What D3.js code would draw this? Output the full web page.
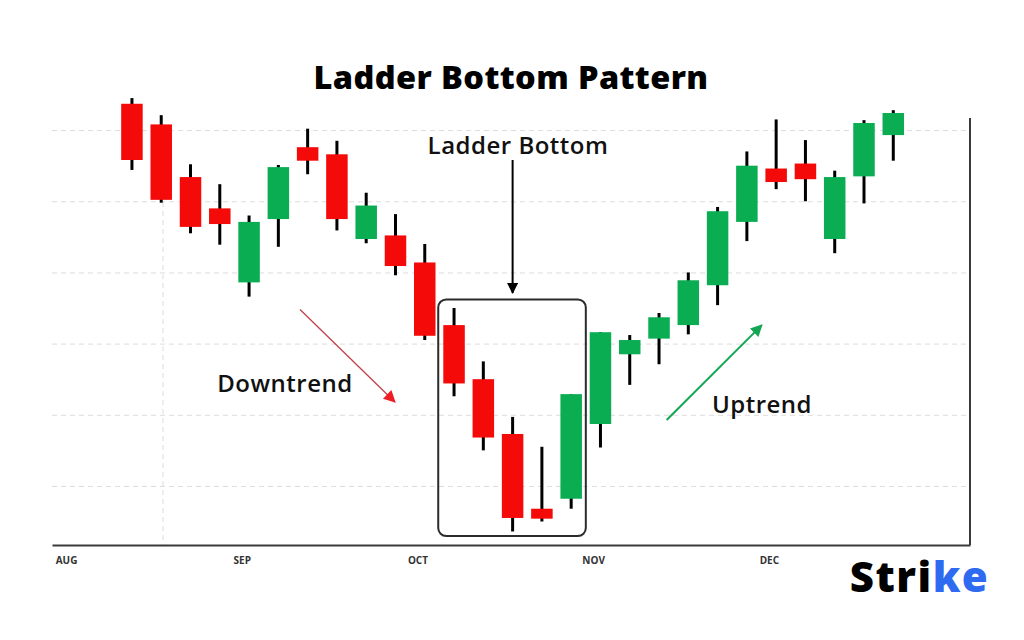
<!DOCTYPE html>
<html>
<head>
<meta charset="utf-8">
<script src="https://cdn.jsdelivr.net/npm/d3@7"></script>
<style>
  html, body { margin: 0; padding: 0; background: #ffffff; }
  svg { display: block; }
  text { font-family: "Open Sans", "DejaVu Sans", sans-serif; }
</style>
</head>
<body>
<svg id="chart" width="1024" height="640"></svg>
<script>
// ---- data (weekly candles, index 0..26) ----
const candleIndex = d3.range(27);
const openVals  = [63.7, 60.8, 53.4, 49.0, 38.6, 47.5, 57.6, 56.6, 44.7, 45.2, 41.4, 32.6, 25.0, 17.3, 6.8, 8.2, 18.7, 28.5, 30.7, 32.6, 38.2, 47.1, 54.6, 55.3, 44.7, 53.5, 59.3];
const highVals  = [64.5, 62.1, 55.2, 52.4, 48.0, 55.1, 60.2, 58.5, 51.2, 48.2, 44.0, 35.0, 27.5, 19.7, 15.5, 22.9, 31.6, 31.2, 34.3, 40.0, 49.2, 57.0, 61.5, 58.6, 54.3, 61.4, 62.8];
const lowVals   = [54.4, 49.8, 45.5, 43.9, 36.6, 43.6, 53.8, 45.9, 44.1, 39.6, 30.5, 22.6, 15.0, 3.6, 5.0, 6.8, 15.4, 24.2, 27.1, 31.3, 35.4, 44.4, 51.7, 50.0, 42.7, 49.7, 55.7];
const closeVals = [55.8, 50.2, 46.4, 46.8, 47.1, 54.8, 55.7, 47.5, 49.4, 40.9, 31.1, 24.4, 16.8, 5.5, 5.4, 22.9, 31.6, 30.5, 33.7, 38.9, 48.6, 55.0, 52.7, 53.1, 53.4, 61.0, 62.4];
const monthLabels = ["AUG", "SEP", "OCT", "NOV", "DEC"];
const monthTickIndex = [-2.25, 3.75, 9.75, 15.75, 21.75];
const priceGrid = [10, 20, 30, 40, 50, 60];

const candles = candleIndex.map((i) => ({
  i, open: openVals[i], high: highVals[i], low: lowVals[i], close: closeVals[i]
}));

// ---- layout ----
const svg = d3.select("#chart");
const x = d3.scaleLinear().domain([-2.73, 28.62]).range([52, 970]);
const y = d3.scaleLinear().domain([1.7, 61.7]).range([545, 118]);
const RED = "#f50a0a", GREEN = "#0bad52";
const bodyW = 21.5;

svg.append("rect").attr("width", 1024).attr("height", 640).attr("fill", "#ffffff");

// horizontal dashed grid
const gGrid = svg.append("g")
  .attr("transform", `translate(${x.range()[0]},0)`)
  .call(d3.axisLeft(y).tickValues(priceGrid).tickSize(-(x.range()[1] - x.range()[0])).tickFormat(""));
gGrid.select(".domain").remove();
gGrid.selectAll(".tick line").attr("stroke", "#dcdcdc").attr("stroke-dasharray", "5,4").attr("stroke-width", 1);

// vertical dashed grid
svg.append("line")
  .attr("x1", x(1.06)).attr("x2", x(1.06))
  .attr("y1", y(60)).attr("y2", y.range()[0])
  .attr("stroke", "#dcdcdc").attr("stroke-dasharray", "5,4");

// right border
svg.append("line")
  .attr("x1", x.range()[1]).attr("x2", x.range()[1])
  .attr("y1", y.range()[1]).attr("y2", y.range()[0])
  .attr("stroke", "#3a3a3a").attr("stroke-width", 2);

// bottom axis
const gX = svg.append("g")
  .attr("transform", `translate(0,${y.range()[0]})`)
  .call(d3.axisBottom(x).tickValues(monthTickIndex).tickSize(0).tickSizeOuter(0).tickPadding(12)
        .tickFormat((d, k) => monthLabels[k]));
gX.select(".domain").attr("stroke", "#3a3a3a").attr("stroke-width", 2);
gX.selectAll(".tick text").attr("font-size", 10).attr("font-weight", 700).attr("fill", "#333")
  .attr("font-family", "'Open Sans', sans-serif");

// candles
const gC = svg.append("g");
const c = gC.selectAll("g.candle").data(candles).join("g").attr("class", "candle");
c.append("line")
  .attr("x1", d => x(d.i)).attr("x2", d => x(d.i))
  .attr("y1", d => y(d.high)).attr("y2", d => y(d.low))
  .attr("stroke", "#000").attr("stroke-width", 3);
c.append("rect")
  .attr("x", d => x(d.i) - bodyW / 2).attr("width", bodyW)
  .attr("y", d => y(Math.max(d.open, d.close)))
  .attr("height", d => Math.max(1, Math.abs(y(d.open) - y(d.close))))
  .attr("fill", d => d.close >= d.open ? GREEN : RED);

// defs arrowheads
const defs = svg.append("defs");
function marker(id, color, w, h) {
  defs.append("marker").attr("id", id).attr("viewBox", "0 0 10 10")
    .attr("refX", 9).attr("refY", 5).attr("markerUnits", "userSpaceOnUse")
    .attr("markerWidth", w).attr("markerHeight", h).attr("orient", "auto")
    .append("path").attr("d", "M0,0 L10,5 L0,10 Z").attr("fill", color);
}
marker("arBlack", "#000", 12, 11);
marker("arRed", "#ee1c24", 13, 12);
marker("arGreen", "#14a653", 13, 12);

// ladder bottom box
svg.append("rect")
  .attr("x", x(10.46)).attr("y", y(36.2))
  .attr("width", x(15.5) - x(10.46)).attr("height", y(2.95) - y(36.2))
  .attr("rx", 8).attr("ry", 8)
  .attr("fill", "none").attr("stroke", "#2b2b2b").attr("stroke-width", 2);

// ladder bottom arrow
svg.append("line")
  .attr("x1", x(13)).attr("x2", x(13)).attr("y1", 160).attr("y2", 293)
  .attr("stroke", "#000").attr("stroke-width", 2).attr("marker-end", "url(#arBlack)");

// trend arrows
svg.append("line")
  .attr("x1", x(5.74)).attr("y1", y(34.8)).attr("x2", x(8.98)).attr("y2", y(21.8))
  .attr("stroke", "#c0404a").attr("stroke-width", 1.3).attr("marker-end", "url(#arRed)");
svg.append("line")
  .attr("x1", x(18.26)).attr("y1", y(19.26)).attr("x2", x(21.51)).attr("y2", y(32.6))
  .attr("stroke", "#14a653").attr("stroke-width", 2).attr("marker-end", "url(#arGreen)");

// texts
svg.append("text").attr("x", 511).attr("y", 89).attr("text-anchor", "middle")
  .attr("font-size", 32.5).attr("font-weight", 800).attr("letter-spacing", 0.4).attr("fill", "#000")
  .text("Ladder Bottom Pattern");
svg.append("text").attr("x", 518).attr("y", 154).attr("text-anchor", "middle")
  .attr("font-size", 24).attr("font-weight", 600).attr("letter-spacing", 0.5).attr("fill", "#111")
  .text("Ladder Bottom");
svg.append("text").attr("x", 285).attr("y", 392).attr("text-anchor", "middle")
  .attr("font-size", 24).attr("font-weight", 600).attr("letter-spacing", 0.5).attr("fill", "#111")
  .text("Downtrend");
svg.append("text").attr("x", 762).attr("y", 413).attr("text-anchor", "middle")
  .attr("font-size", 24).attr("font-weight", 600).attr("letter-spacing", 0.5).attr("fill", "#111")
  .text("Uptrend");

// logo
const logo = svg.append("text").attr("x", 919.5).attr("y", 592).attr("text-anchor", "middle")
  .attr("font-size", 42).attr("font-weight", 800).attr("letter-spacing", 1.5).attr("fill", "#000");
logo.append("tspan").text("Stri");
logo.append("tspan").attr("fill", "#2f6bf0").text("ke");
</script>
</body>
</html>
